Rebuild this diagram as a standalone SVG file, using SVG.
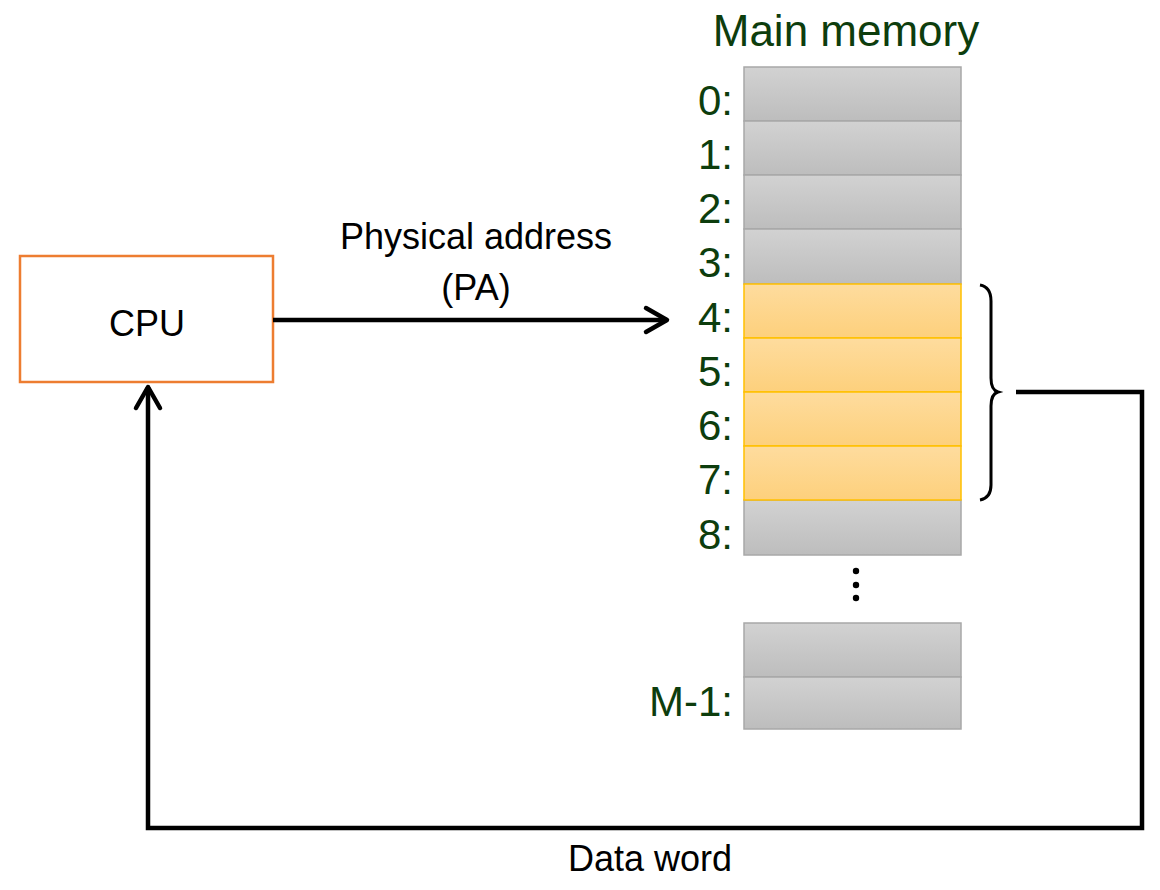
<svg xmlns="http://www.w3.org/2000/svg" width="1160" height="890" viewBox="0 0 1160 890">
<defs>
<linearGradient id="gGray" x1="0" y1="0" x2="0" y2="1"><stop offset="0" stop-color="#d2d2d2"/><stop offset="1" stop-color="#bdbdbd"/></linearGradient>
<linearGradient id="gOr" x1="0" y1="0" x2="0" y2="1"><stop offset="0" stop-color="#fedc9e"/><stop offset="1" stop-color="#fdd07c"/></linearGradient>
<marker id="chev" viewBox="-28 -16 32 32" refX="0" refY="0" markerWidth="32" markerHeight="32" markerUnits="userSpaceOnUse" orient="auto" overflow="visible">
<path d="M-21 -12 L0 0 L-21 12" fill="none" stroke="#000" stroke-width="4.5" stroke-linecap="round" stroke-linejoin="round"/>
</marker>
</defs>
<style>
.lbl{font-family:"Liberation Sans",Arial,sans-serif;font-size:42px;fill:#0d3d0d;text-anchor:end}
.txt{font-family:"Liberation Sans",Arial,sans-serif;font-size:36px;fill:#000;text-anchor:middle}
.gray{fill:url(#gGray);stroke:#a8a8a8;stroke-width:1.5}
.org{fill:url(#gOr);stroke:#ffc000;stroke-width:1.5}
.conn{fill:none;stroke:#000;stroke-width:4.5}
</style>
<g id="cpu">
<rect x="20" y="256" width="253" height="126" fill="#fff" stroke="#ed7d31" stroke-width="2.5"/>
<text class="txt" x="147" y="336" font-size="38">CPU</text>
</g>
<g id="memory">
<text x="846" y="46" style="font-family:'Liberation Sans',Arial,sans-serif;font-size:44px;fill:#0d3d0d;text-anchor:middle">Main memory</text>
<rect class="gray" x="744" y="67" width="217" height="54"/>
<rect class="gray" x="744" y="121" width="217" height="54"/>
<rect class="gray" x="744" y="175" width="217" height="54"/>
<rect class="gray" x="744" y="229" width="217" height="55"/>
<rect class="gray" x="744" y="500" width="217" height="55"/>
<rect class="org" x="744" y="284" width="217" height="54"/>
<rect class="org" x="744" y="338" width="217" height="54"/>
<rect class="org" x="744" y="392" width="217" height="54"/>
<rect class="org" x="744" y="446" width="217" height="54"/>
<rect class="gray" x="744" y="623" width="217" height="54"/>
<rect class="gray" x="744" y="677" width="217" height="52"/>
<text class="lbl" x="733" y="115">0:</text>
<text class="lbl" x="733" y="169">1:</text>
<text class="lbl" x="733" y="223">2:</text>
<text class="lbl" x="733" y="277">3:</text>
<text class="lbl" x="733" y="332">4:</text>
<text class="lbl" x="733" y="386">5:</text>
<text class="lbl" x="733" y="440">6:</text>
<text class="lbl" x="733" y="494">7:</text>
<text class="lbl" x="733" y="549">8:</text>
<text class="lbl" x="733" y="716">M-1:</text>
<circle cx="856" cy="571" r="3.2" fill="#000"/>
<circle cx="856" cy="585" r="3.2" fill="#000"/>
<circle cx="856" cy="598" r="3.2" fill="#000"/>
<path d="M980 285 Q991 287 991 301 L991 378 Q991 390 998 392 Q991 394 991 406 L991 485 Q991 498 980 500" fill="none" stroke="#000" stroke-width="3"/>
</g>
<g id="connectors">
<path class="conn" d="M273 320 L667 320" marker-end="url(#chev)"/>
<path class="conn" d="M1016 392 L1142 392 L1142 828 L148 828 L148 387" marker-end="url(#chev)"/>
</g>
<g id="labels">
<text class="txt" x="476" y="249">Physical address</text>
<text class="txt" x="476" y="300">(PA)</text>
<text class="txt" x="650" y="871">Data word</text>
</g>
</svg>
